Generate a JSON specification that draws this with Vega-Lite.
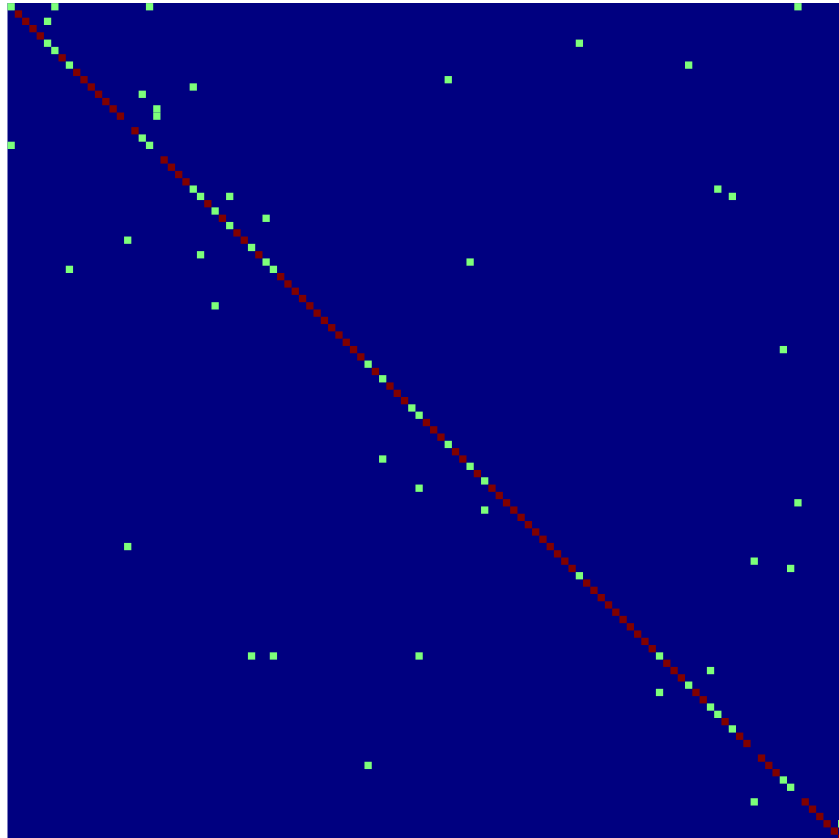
{
  "$schema": "https://vega.github.io/schema/vega-lite/v6.json",
  "width": 831.5,
  "height": 834.9,
  "autosize": {"type": "none"},
  "padding": {"left": 7.5, "top": 3.1, "right": 0, "bottom": 0},
  "background": "#ffffff",
  "config": {"view": {"stroke": null, "fill": "#000080"}},
  "data": {"values": [
    {"r":0,"c":0,"v":0.5},{"r":1,"c":1,"v":1},{"r":2,"c":2,"v":1},{"r":3,"c":3,"v":1},{"r":4,"c":4,"v":1},
    {"r":5,"c":5,"v":0.5},{"r":6,"c":6,"v":0.5},{"r":7,"c":7,"v":1},{"r":8,"c":8,"v":0.5},{"r":9,"c":9,"v":1},
    {"r":10,"c":10,"v":1},{"r":11,"c":11,"v":1},{"r":12,"c":12,"v":1},{"r":13,"c":13,"v":1},{"r":14,"c":14,"v":1},
    {"r":15,"c":15,"v":1},{"r":17,"c":17,"v":1},{"r":18,"c":18,"v":0.5},{"r":19,"c":19,"v":0.5},
    {"r":21,"c":21,"v":1},{"r":22,"c":22,"v":1},{"r":23,"c":23,"v":1},{"r":24,"c":24,"v":1},
    {"r":25,"c":25,"v":0.5},{"r":26,"c":26,"v":0.5},{"r":27,"c":27,"v":1},{"r":28,"c":28,"v":0.5},{"r":29,"c":29,"v":1},
    {"r":30,"c":30,"v":0.5},{"r":31,"c":31,"v":1},{"r":32,"c":32,"v":1},{"r":33,"c":33,"v":0.5},{"r":34,"c":34,"v":1},
    {"r":35,"c":35,"v":0.5},{"r":36,"c":36,"v":0.5},{"r":37,"c":37,"v":1},{"r":38,"c":38,"v":1},{"r":39,"c":39,"v":1},
    {"r":40,"c":40,"v":1},{"r":41,"c":41,"v":1},{"r":42,"c":42,"v":1},{"r":43,"c":43,"v":1},{"r":44,"c":44,"v":1},
    {"r":45,"c":45,"v":1},{"r":46,"c":46,"v":1},{"r":47,"c":47,"v":1},{"r":48,"c":48,"v":1},{"r":49,"c":49,"v":0.5},
    {"r":50,"c":50,"v":1},{"r":51,"c":51,"v":0.5},{"r":52,"c":52,"v":1},{"r":53,"c":53,"v":1},{"r":54,"c":54,"v":1},
    {"r":55,"c":55,"v":0.5},{"r":56,"c":56,"v":0.5},{"r":57,"c":57,"v":1},{"r":58,"c":58,"v":1},{"r":59,"c":59,"v":1},
    {"r":60,"c":60,"v":0.5},{"r":61,"c":61,"v":1},{"r":62,"c":62,"v":1},{"r":63,"c":63,"v":0.5},{"r":64,"c":64,"v":1},
    {"r":65,"c":65,"v":0.5},{"r":66,"c":66,"v":1},{"r":67,"c":67,"v":1},{"r":68,"c":68,"v":1},{"r":69,"c":69,"v":1},
    {"r":70,"c":70,"v":1},{"r":71,"c":71,"v":1},{"r":72,"c":72,"v":1},{"r":73,"c":73,"v":1},{"r":74,"c":74,"v":1},
    {"r":75,"c":75,"v":1},{"r":76,"c":76,"v":1},{"r":77,"c":77,"v":1},{"r":78,"c":78,"v":0.5},{"r":79,"c":79,"v":1},
    {"r":80,"c":80,"v":1},{"r":81,"c":81,"v":1},{"r":82,"c":82,"v":1},{"r":83,"c":83,"v":1},{"r":84,"c":84,"v":1},
    {"r":85,"c":85,"v":1},{"r":86,"c":86,"v":1},{"r":87,"c":87,"v":1},{"r":88,"c":88,"v":1},{"r":89,"c":89,"v":0.5},
    {"r":90,"c":90,"v":1},{"r":91,"c":91,"v":1},{"r":92,"c":92,"v":1},{"r":93,"c":93,"v":0.5},{"r":94,"c":94,"v":1},
    {"r":95,"c":95,"v":1},{"r":96,"c":96,"v":0.5},{"r":97,"c":97,"v":0.5},{"r":98,"c":98,"v":1},{"r":99,"c":99,"v":0.5},
    {"r":100,"c":100,"v":1},{"r":101,"c":101,"v":1},{"r":103,"c":103,"v":1},{"r":104,"c":104,"v":1},
    {"r":105,"c":105,"v":1},{"r":106,"c":106,"v":0.5},{"r":107,"c":107,"v":0.5},{"r":109,"c":109,"v":1},
    {"r":110,"c":110,"v":1},{"r":111,"c":111,"v":1},{"r":112,"c":112,"v":1},{"r":113,"c":113,"v":1},{"r":114,"c":114,"v":1},
    {"r":0,"c":6,"v":0.5},{"r":0,"c":19,"v":0.5},{"r":0,"c":108,"v":0.5},{"r":2,"c":5,"v":0.5},{"r":5,"c":78,"v":0.5},
    {"r":8,"c":93,"v":0.5},{"r":10,"c":60,"v":0.5},{"r":11,"c":25,"v":0.5},{"r":12,"c":18,"v":0.5},{"r":14,"c":20,"v":0.5},
    {"r":15,"c":20,"v":0.5},{"r":19,"c":0,"v":0.5},{"r":25,"c":97,"v":0.5},{"r":26,"c":99,"v":0.5},{"r":26,"c":30,"v":0.5},
    {"r":29,"c":35,"v":0.5},{"r":32,"c":16,"v":0.5},{"r":34,"c":26,"v":0.5},{"r":35,"c":63,"v":0.5},{"r":36,"c":8,"v":0.5},
    {"r":41,"c":28,"v":0.5},{"r":47,"c":106,"v":0.5},{"r":62,"c":51,"v":0.5},{"r":66,"c":56,"v":0.5},{"r":68,"c":108,"v":0.5},
    {"r":69,"c":65,"v":0.5},{"r":74,"c":16,"v":0.5},{"r":76,"c":102,"v":0.5},{"r":77,"c":107,"v":0.5},{"r":89,"c":33,"v":0.5},
    {"r":89,"c":36,"v":0.5},{"r":89,"c":56,"v":0.5},{"r":91,"c":96,"v":0.5},{"r":94,"c":89,"v":0.5},{"r":104,"c":49,"v":0.5},
    {"r":109,"c":102,"v":0.5},{"r":112,"c":114,"v":0.5}
  ]},
  "mark": {"type": "rect"},
  "encoding": {
    "x": {"field": "c", "type": "ordinal", "axis": null,
      "scale": {"type": "band", "domain": [0,1,2,3,4,5,6,7,8,9,10,11,12,13,14,15,16,17,18,19,20,21,22,23,24,25,26,27,28,29,30,31,32,33,34,35,36,37,38,39,40,41,42,43,44,45,46,47,48,49,50,51,52,53,54,55,56,57,58,59,60,61,62,63,64,65,66,67,68,69,70,71,72,73,74,75,76,77,78,79,80,81,82,83,84,85,86,87,88,89,90,91,92,93,94,95,96,97,98,99,100,101,102,103,104,105,106,107,108,109,110,111,112,113,114],
        "range": [0, 837.8], "paddingInner": 0, "paddingOuter": 0}},
    "y": {"field": "r", "type": "ordinal", "axis": null,
      "scale": {"type": "band", "domain": [0,1,2,3,4,5,6,7,8,9,10,11,12,13,14,15,16,17,18,19,20,21,22,23,24,25,26,27,28,29,30,31,32,33,34,35,36,37,38,39,40,41,42,43,44,45,46,47,48,49,50,51,52,53,54,55,56,57,58,59,60,61,62,63,64,65,66,67,68,69,70,71,72,73,74,75,76,77,78,79,80,81,82,83,84,85,86,87,88,89,90,91,92,93,94,95,96,97,98,99,100,101,102,103,104,105,106,107,108,109,110,111,112,113,114],
        "range": [0, 838.9], "paddingInner": 0, "paddingOuter": 0}},
    "color": {"field": "v", "type": "ordinal", "legend": null,
      "scale": {"domain": [0.5, 1], "range": ["#7dff7a", "#800000"]}}
  }
}
